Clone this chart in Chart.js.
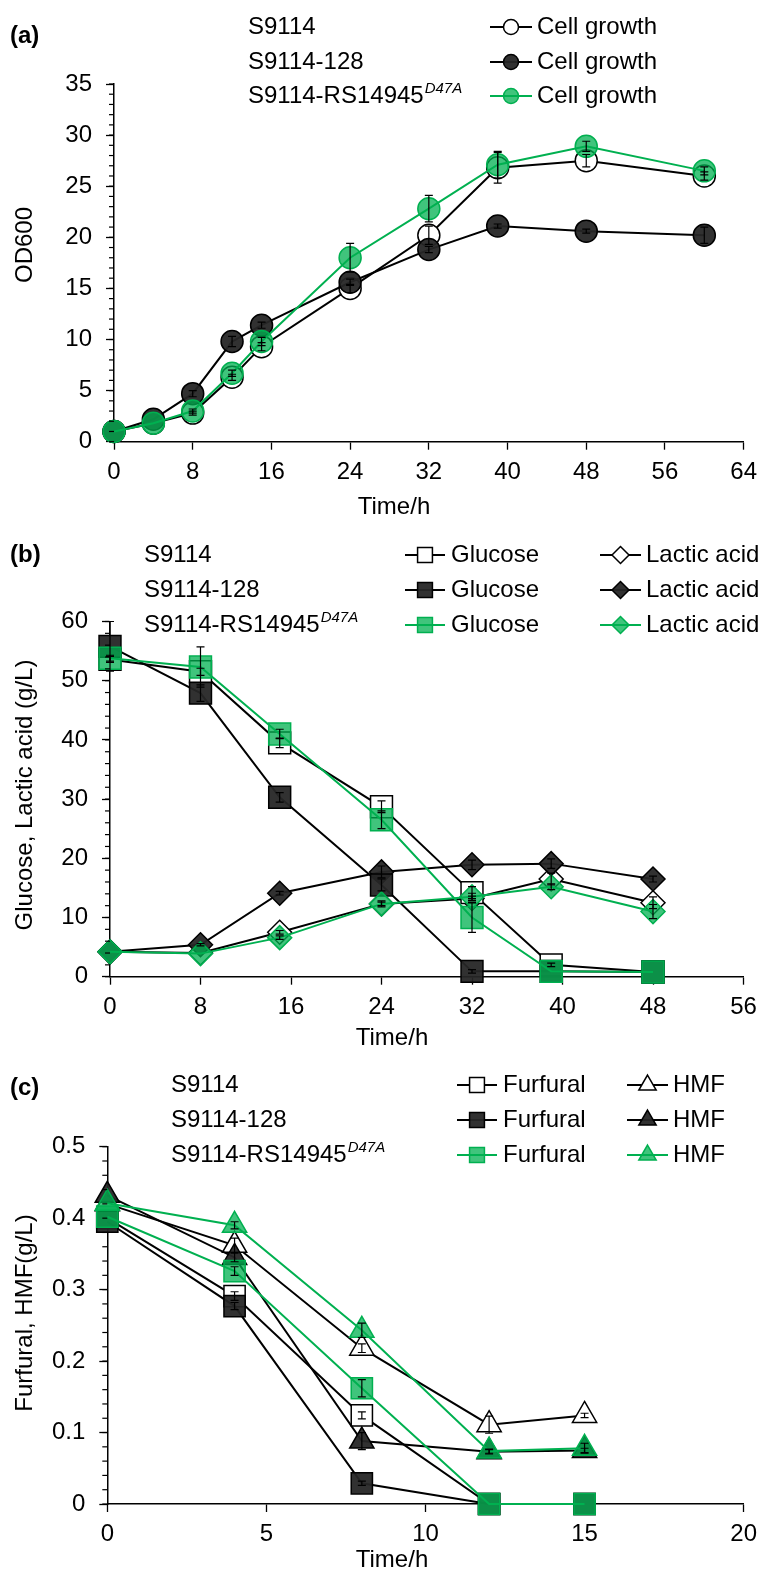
<!DOCTYPE html>
<html>
<head>
<meta charset="utf-8">
<script src="https://cdn.jsdelivr.net/npm/chart.js@4.4.1/dist/chart.umd.min.js"></script>
<style>
  html, body { margin: 0; padding: 0; background: #fff; }
  #wrap { position: relative; width: 765px; height: 1573px; }
  #wrap canvas { position: absolute; left: 0; }
</style>
</head>
<body>
<div id="wrap">
  <canvas id="panelA" width="765" height="525" style="top:0px"></canvas>
  <canvas id="panelB" width="765" height="525" style="top:525px"></canvas>
  <canvas id="panelC" width="765" height="523" style="top:1050px"></canvas>
</div>
<script>
// ---- data ----
const strainNames = ['S9114', 'S9114-128', 'S9114-RS14945'];
const strainSup = ['', '', 'D47A'];

// (a) cell growth, OD600
const timeA = [0, 4, 8, 12, 15, 24, 32, 39, 48, 60];
const odS9114 = [1.0, 1.8, 2.8, 6.3, 9.3, 15.0, 20.2, 26.8, 27.5, 26.0];
const odS9114Err = [0, 0, 0.2, 0.3, 0.4, 0.4, 0.9, 1.5, 0.6, 0.4];
const od128 = [1.0, 2.2, 4.7, 9.8, 11.4, 15.6, 18.8, 21.1, 20.6, 20.2];
const od128Err = [0, 0, 0.3, 0.5, 0.3, 0.3, 0.3, 0.2, 0.2, 0.8];
const odD47A = [1.0, 1.8, 3.0, 6.7, 9.8, 18.0, 22.8, 27.1, 28.9, 26.5];
const odD47AErr = [0, 0, 0.2, 0.3, 0.4, 1.4, 1.3, 1.3, 0.5, 0.4];
const xTicksA = [0, 8, 16, 24, 32, 40, 48, 56, 64];
const yTicksA = [0, 5, 10, 15, 20, 25, 30, 35];

// (b) glucose and lactic acid, g/L
const timeB = [0, 8, 15, 24, 32, 39, 48];
const glcS9114 = [53.6, 51.5, 39.5, 28.7, 14.2, 2.0, 0.8];
const glcS9114Err = [0.5, 0.6, 0.8, 1.0, 1.0, 0.3, 0];
const glc128 = [55.8, 47.9, 30.3, 15.5, 0.9, 0.9, 0.8];
const glc128Err = [4.2, 1.4, 0.8, 1.0, 0.3, 0, 0];
const glcD47A = [53.8, 52.3, 41.0, 26.5, 10.0, 0.9, 0.8];
const glcD47AErr = [0.5, 3.4, 0.8, 1.5, 2.5, 0, 0];
const lacS9114 = [4.2, 4.0, 7.5, 12.3, 13.2, 16.5, 12.5];
const lacS9114Err = [0, 0, 0.3, 0.3, 0.4, 1.0, 1.0];
const lac128 = [4.2, 5.4, 14.1, 17.7, 18.9, 19.1, 16.5];
const lac128Err = [0, 0.2, 0.3, 1.0, 0.8, 0.8, 0.5];
const lacD47A = [4.2, 3.9, 6.6, 12.3, 13.5, 15.2, 11.0];
const lacD47AErr = [0, 0, 0.3, 0.5, 0.6, 0.5, 1.2];
const xTicksB = [0, 8, 16, 24, 32, 40, 48, 56];
const yTicksB = [0, 10, 20, 30, 40, 50, 60];

// (c) furfural and HMF, g/L
const timeC = [0, 4, 8, 12, 15];
const furS9114 = [0.400, 0.291, 0.124, 0, 0];
const furS9114Err = [0, 0.006, 0.005, 0, 0];
const fur128 = [0.395, 0.277, 0.029, 0, 0];
const fur128Err = [0, 0.005, 0.003, 0, 0];
const furD47A = [0.402, 0.326, 0.162, 0, 0];
const furD47AErr = [0, 0.006, 0.012, 0, 0];
const hmfS9114 = [0.420, 0.362, 0.218, 0.111, 0.124];
const hmfS9114Err = [0, 0.010, 0.006, 0.012, 0.003];
const hmf128 = [0.432, 0.345, 0.088, 0.073, 0.075];
const hmf128Err = [0, 0.006, 0.012, 0.003, 0.003];
const hmfD47A = [0.421, 0.390, 0.243, 0.074, 0.078];
const hmfD47AErr = [0, 0.005, 0.010, 0.003, 0.007];
const xTicksC = [0, 5, 10, 15, 20];
const yTicksC = [0, 0.1, 0.2, 0.3, 0.4, 0.5];

// ---- styling ----
const FONT = '"Liberation Sans", Arial, Helvetica, sans-serif';
const GREEN = '#00b050';
const looks = [
  { line: '#000', fill: '#ffffff', border: '#000' },            // S9114 (open)
  { line: '#000', fill: 'rgba(38,38,38,0.95)', border: '#000' }, // S9114-128 (filled)
  { line: GREEN, fill: 'rgba(0,176,80,0.75)', border: GREEN },   // D47A (green)
];

function series(label, xs, ys, err, look, shape, r, order) {
  return {
    label,
    data: xs.map((t, i) => ({ x: t, y: ys[i] })),
    err,
    order,
    clip: false,
    borderColor: look.line,
    borderWidth: 2,
    pointStyle: shape,
    pointRadius: r,
    pointHoverRadius: r,
    pointBackgroundColor: look.fill,
    pointBorderColor: look.border,
    pointBorderWidth: 1.5,
    tension: 0,
    fill: false,
  };
}

// error bars, drawn through the chart's own scales
const errorBars = {
  id: 'errorBars',
  afterDatasetsDraw(chart) {
    const { ctx, scales: { x, y } } = chart;
    ctx.save();
    ctx.strokeStyle = '#000';
    ctx.lineWidth = 1.2;
    chart.data.datasets.forEach(ds => {
      if (!ds.err) return;
      ds.data.forEach((p, i) => {
        const e = ds.err[i];
        if (!e) return;
        const px = x.getPixelForValue(p.x);
        const top = y.getPixelForValue(p.y + e);
        const bot = y.getPixelForValue(Math.max(p.y - e, y.min));
        ctx.beginPath();
        ctx.moveTo(px, top); ctx.lineTo(px, bot);
        ctx.moveTo(px - 4, top); ctx.lineTo(px + 4, top);
        ctx.moveTo(px - 4, bot); ctx.lineTo(px + 4, bot);
        ctx.stroke();
      });
    });
    ctx.restore();
  }
};

// panel tag, strain column, legend entries, axis titles, minor ticks
const decor = {
  id: 'decor',
  afterDraw(chart, args, o) {
    const { ctx, chartArea, scales: { y } } = chart;
    const drawPoint = Chart.helpers.drawPoint;
    ctx.save();

    // minor ticks on y
    ctx.strokeStyle = '#000';
    ctx.lineWidth = 1.2;
    const n = Math.round((y.max - y.min) / o.minor);
    for (let k = 0; k <= n; k++) {
      const py = y.getPixelForValue(y.min + k * o.minor);
      ctx.beginPath();
      ctx.moveTo(chartArea.left - 5, py);
      ctx.lineTo(chartArea.left, py);
      ctx.stroke();
    }

    ctx.fillStyle = '#000';
    ctx.textBaseline = 'middle';
    ctx.textAlign = 'left';
    ctx.font = 'bold 24px ' + FONT;
    ctx.fillText(o.tag, 10, o.tagY);

    // strain names with superscript
    o.rows.forEach((ry, i) => {
      ctx.font = '24px ' + FONT;
      ctx.fillText(strainNames[i], o.strainX, ry);
      if (strainSup[i]) {
        const w = ctx.measureText(strainNames[i]).width;
        ctx.font = 'italic 15px ' + FONT;
        ctx.fillText(strainSup[i], o.strainX + w + 1, ry - 7);
      }
      // legend entries in this row
      o.entries.forEach(en => {
        const lk = looks[i];
        ctx.strokeStyle = lk.line;
        ctx.lineWidth = 2;
        ctx.beginPath();
        ctx.moveTo(en.x0, ry); ctx.lineTo(en.x1, ry);
        ctx.stroke();
        ctx.fillStyle = lk.fill;
        ctx.strokeStyle = lk.border;
        ctx.lineWidth = 1.5;
        drawPoint(ctx, { pointStyle: en.shape, radius: en.r, rotation: 0, borderWidth: 1.5 }, (en.x0 + en.x1) / 2, ry);
        ctx.fillStyle = '#000';
        ctx.font = '24px ' + FONT;
        ctx.fillText(en.text, en.tx, ry);
      });
    });

    // axis titles
    ctx.fillStyle = '#000';
    ctx.font = '24px ' + FONT;
    ctx.textAlign = 'center';
    ctx.fillText(o.xTitle, o.xTitleX, o.xTitleY);
    ctx.translate(o.yTitleX, o.yTitleY);
    ctx.rotate(-Math.PI / 2);
    ctx.fillText(o.yTitle, 0, 0);
    ctx.restore();
  }
};

function makePanel(id, datasets, box, xr, yr, xTicks, yTicks, decorOpts) {
  const canvas = document.getElementById(id);
  const H = canvas.height;
  const tickFont = { family: FONT, size: 24 };
  return new Chart(canvas, {
    type: 'line',
    data: { datasets },
    options: {
      responsive: false,
      animation: false,
      devicePixelRatio: 1,
      layout: { padding: { left: 0, top: box.top, right: 765 - box.right, bottom: 0 } },
      plugins: { legend: { display: false }, tooltip: { enabled: false }, decor: decorOpts },
      scales: {
        x: {
          type: 'linear', position: 'bottom', min: xr[0], max: xr[1],
          afterBuildTicks: s => { s.ticks = xTicks.map(v => ({ value: v })); },
          afterFit: s => { s.height = H - box.bottom; },
          grid: { drawOnChartArea: false, drawTicks: true, tickLength: 8, tickColor: '#000', tickWidth: 1.3 },
          border: { display: true, color: '#000', width: 1.5 },
          ticks: { font: tickFont, color: '#000', padding: 8, maxRotation: 0, autoSkip: false },
        },
        y: {
          type: 'linear', position: 'left', min: yr[0], max: yr[1],
          afterBuildTicks: s => { s.ticks = yTicks.map(v => ({ value: v })); },
          afterFit: s => { s.width = box.left; },
          grid: { drawOnChartArea: false, drawTicks: true, tickLength: 8, tickColor: '#000', tickWidth: 1.3 },
          border: { display: true, color: '#000', width: 1.5 },
          ticks: { font: tickFont, color: '#000', padding: 14, callback: v => String(+v.toFixed(2)) },
        }
      }
    },
    plugins: [errorBars, decor]
  });
}

// (a)
makePanel('panelA', [
  series('S9114-RS14945 D47A cell growth', timeA, odD47A, odD47AErr, looks[2], 'circle', 11, 1),
  series('S9114-128 cell growth', timeA, od128, od128Err, looks[1], 'circle', 11, 2),
  series('S9114 cell growth', timeA, odS9114, odS9114Err, looks[0], 'circle', 11, 3),
], { left: 114, right: 747.7, top: 84, bottom: 441.7 }, [0, 64], [0, 35], xTicksA, yTicksA, {
  tag: '(a)', tagY: 36, strainX: 248, rows: [27, 62, 96], minor: 1,
  entries: [{ x0: 490, x1: 532, tx: 537, text: 'Cell growth', shape: 'circle', r: 7.5 }],
  xTitle: 'Time/h', xTitleX: 394, xTitleY: 507,
  yTitle: 'OD600', yTitleX: 25, yTitleY: 245,
});

// (b)
makePanel('panelB', [
  series('D47A glucose', timeB, glcD47A, glcD47AErr, looks[2], 'rect', 15.5, 1),
  series('D47A lactic acid', timeB, lacD47A, lacD47AErr, looks[2], 'rectRot', 12, 2),
  series('128 glucose', timeB, glc128, glc128Err, looks[1], 'rect', 15.5, 3),
  series('128 lactic acid', timeB, lac128, lac128Err, looks[1], 'rectRot', 12, 4),
  series('S9114 glucose', timeB, glcS9114, glcS9114Err, looks[0], 'rect', 15.5, 5),
  series('S9114 lactic acid', timeB, lacS9114, lacS9114Err, looks[0], 'rectRot', 12, 6),
], { left: 110, right: 743.5, top: 96.5, bottom: 451.7 }, [0, 56], [0, 60], xTicksB, yTicksB, {
  tag: '(b)', tagY: 30, strainX: 144, rows: [30, 65, 100], minor: 2,
  entries: [
    { x0: 405, x1: 445, tx: 451, text: 'Glucose', shape: 'rect', r: 10.5 },
    { x0: 600, x1: 641, tx: 646, text: 'Lactic acid', shape: 'rectRot', r: 8.5 },
  ],
  xTitle: 'Time/h', xTitleX: 392, xTitleY: 513,
  yTitle: 'Glucose, Lactic acid (g/L)', yTitleX: 25, yTitleY: 270,
});

// (c)
makePanel('panelC', [
  series('D47A HMF', timeC, hmfD47A, hmfD47AErr, looks[2], 'triangle', 14, 1),
  series('D47A furfural', timeC, furD47A, furD47AErr, looks[2], 'rect', 15, 2),
  series('128 HMF', timeC, hmf128, hmf128Err, looks[1], 'triangle', 14, 3),
  series('128 furfural', timeC, fur128, fur128Err, looks[1], 'rect', 15, 4),
  series('S9114 HMF', timeC, hmfS9114, hmfS9114Err, looks[0], 'triangle', 14, 5),
  series('S9114 furfural', timeC, furS9114, furS9114Err, looks[0], 'rect', 15, 6),
], { left: 107.3, right: 749, top: 96.7, bottom: 454 }, [0, 20], [0, 0.5], xTicksC, yTicksC, {
  tag: '(c)', tagY: 38, strainX: 171, rows: [35, 70, 105], minor: 0.02,
  entries: [
    { x0: 457, x1: 497, tx: 503, text: 'Furfural', shape: 'rect', r: 10.5 },
    { x0: 627, x1: 668, tx: 673, text: 'HMF', shape: 'triangle', r: 10 },
  ],
  xTitle: 'Time/h', xTitleX: 392, xTitleY: 510,
  yTitle: 'Furfural, HMF(g/L)', yTitleX: 25, yTitleY: 263,
});
</script>
</body>
</html>
